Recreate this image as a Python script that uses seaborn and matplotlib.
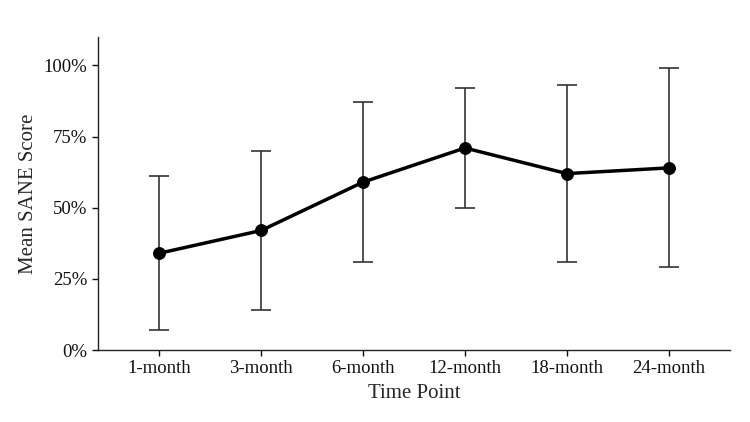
import numpy as np
import matplotlib
matplotlib.use("Agg")
import matplotlib.pyplot as plt
from matplotlib.ticker import PercentFormatter
import seaborn as sns
import pandas as pd

# Dati
time_points = ["1-month", "3-month", "6-month", "12-month", "18-month", "24-month"]
mean_sane = [34, 42, 59, 71, 62, 64]
lower = [7, 14, 31, 50, 31, 29]
upper = [61, 70, 87, 92, 93, 99]

df = pd.DataFrame({"pos": np.arange(len(time_points)), "Time Point": time_points,
                   "Mean": mean_sane, "lo": lower, "hi": upper})

sns.set_style("white")
plt.rcParams["font.family"] = ["Liberation Serif", "DejaVu Serif"]

fig = plt.figure(figsize=(7.5, 4.22), dpi=100)
ax = fig.add_axes([0.1307, 0.1706, 0.8426, 0.7417])

# Barre di errore
ax.errorbar(df["pos"], df["Mean"],
            yerr=[df["Mean"] - df["lo"], df["hi"] - df["Mean"]],
            fmt="none", ecolor="#333333", elinewidth=1.2, capsize=7, capthick=1.2, zorder=2)

# Linea delle medie
sns.lineplot(data=df, x="pos", y="Mean", color="black", linewidth=2.5,
             marker="o", markersize=8.5, markeredgecolor="black", ax=ax, zorder=3)

ax.set_xlim(-0.6, 5.6)
ax.set_ylim(0, 110)
ax.set_xticks(df["pos"])
ax.set_xticklabels(time_points)
ax.set_yticks([0, 25, 50, 75, 100])
ax.yaxis.set_major_formatter(PercentFormatter(decimals=0))
ax.tick_params(axis="both", labelsize=13.5, length=4, width=1, colors="#111111",
               direction="out", bottom=True, left=True)
ax.set_xlabel("Time Point", fontsize=15, labelpad=5)
ax.set_ylabel("Mean SANE Score", fontsize=15)

for s in ["top", "right"]:
    ax.spines[s].set_visible(False)
for s in ["left", "bottom"]:
    ax.spines[s].set_color("#222222")
    ax.spines[s].set_linewidth(1)

fig.savefig("out.png", dpi=100)
